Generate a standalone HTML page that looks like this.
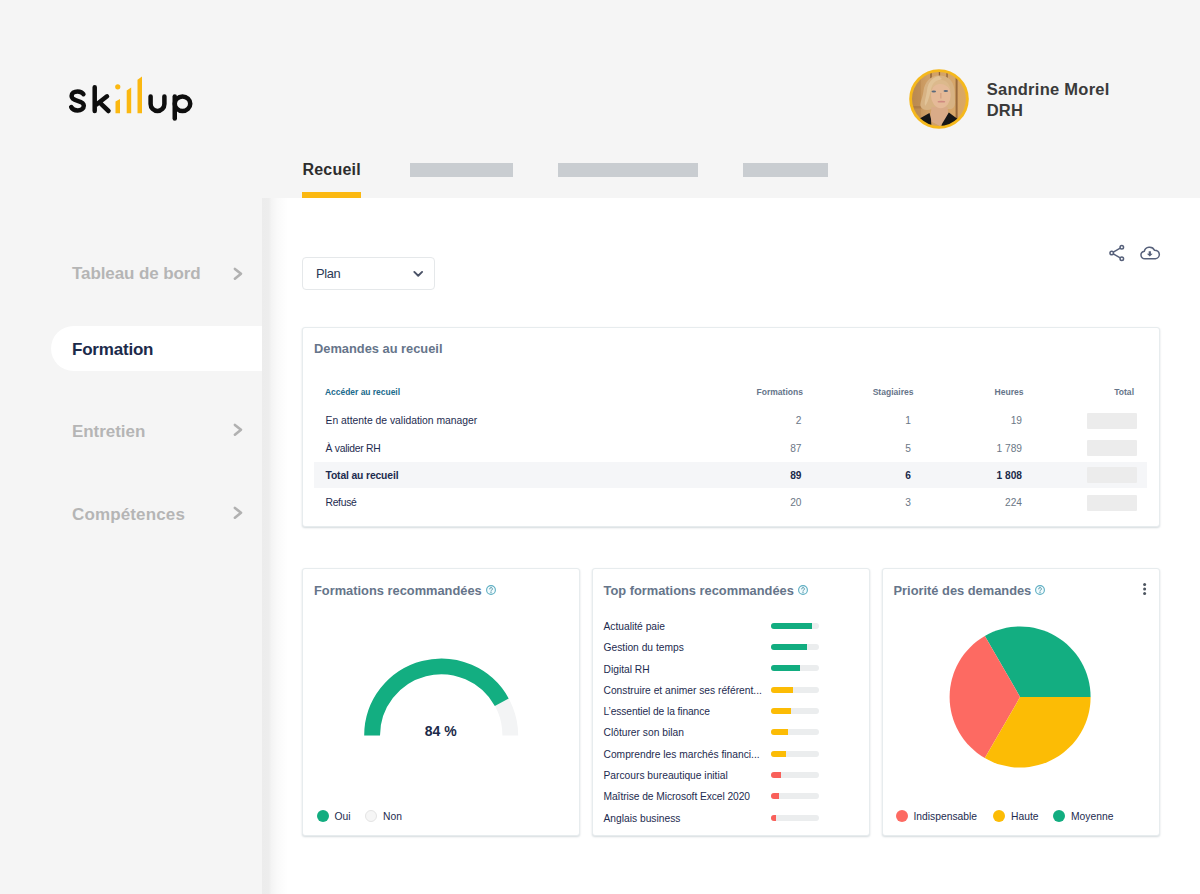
<!DOCTYPE html>
<html lang="fr">
<head>
<meta charset="utf-8">
<title>Skillup</title>
<style>
*{box-sizing:border-box;margin:0;padding:0}
html,body{width:1200px;height:894px;overflow:hidden;background:#f5f5f5;font-family:"Liberation Sans",sans-serif;color:#1d2b4f}
.abs{position:absolute}
#root{position:relative;width:1200px;height:894px;overflow:hidden}
/* main white panel */
#panel{left:262px;top:197.6px;width:938px;height:697px;background:#fff}
#panel:before{content:"";position:absolute;left:0;top:0;width:26px;height:100%;background:linear-gradient(90deg,#ececec 0,#ededed 26%,#f4f4f4 36%,#fafafa 60%,#fff 100%)}
/* tabs */
.tab{top:160.8px;font-size:16px;font-weight:700;color:#2d2d2d;letter-spacing:.1px}
.tabbar{left:302px;top:192.4px;width:58.5px;height:5.4px;background:#fbb811}
.ph{top:163px;height:14px;background:#c9cdd1}
/* side nav */
.nav{left:72px;font-size:17px;font-weight:700;color:#b5b5b5;letter-spacing:-.1px}
.navact{left:51px;top:326px;width:211px;height:45px;background:#fff;border-radius:23px 0 0 23px}
.chev{left:232px;width:12px;height:16px}
/* cards */
.card{background:#fff;border:1px solid #e7ecee;border-radius:3px;box-shadow:0 1px 2px rgba(120,140,150,.32)}
.ctitle{font-size:12.85px;font-weight:700;color:#66758a}
.row{font-size:10.35px;color:#1d2b4f}
.num{font-size:10.2px;color:#6b7786;text-align:right;width:60px}
.th{font-size:8.55px;font-weight:700;color:#66758a;text-align:right;width:80px}
.blur{left:1087px;width:50px;height:16px;background:#ececec;border-radius:1px;filter:blur(.5px)}
.li{left:603.5px;font-size:10.25px;color:#1d2b4f;white-space:nowrap}
.bar{left:771px;width:47.5px;height:6px;border-radius:3px;background:#ebedee;overflow:hidden}
.bar i{display:block;height:6px}
.lg{font-size:10.3px;color:#1d2b4f}
.dot{width:12px;height:12px;border-radius:50%}
</style>
</head>
<body>
<div id="root">
  <div id="panel" class="abs"></div>
  <div class="abs card" style="left:302px;top:327px;width:858px;height:200px"></div>
  <div class="abs" style="left:314px;top:462px;width:833px;height:26px;background:#f5f6f8"></div>
  <div class="abs card" style="left:302px;top:568px;width:278px;height:268px"></div>
  <div class="abs card" style="left:592px;top:568px;width:278px;height:268px"></div>
  <div class="abs card" style="left:882px;top:568px;width:278px;height:268px"></div>

  <!-- logo placeholder -->
  <svg id="logo" class="abs" style="left:50px;top:60px" width="200" height="80" viewBox="0 0 200 80">
    <g fill="none" stroke="#0e0e0e" stroke-width="4.5" stroke-linecap="round" stroke-linejoin="round">
      <path d="M33.4 34.2C32.2 32.2 30 31.4 27.6 31.4C24.2 31.4 21.6 33.2 21.6 36C21.6 39 24.4 39.9 27.6 40.8C31 41.7 33.8 42.8 33.8 45.8C33.8 48.8 31 50.4 27.6 50.4C24.6 50.4 22.2 49.2 21.2 47"/>
      <path d="M44.7 27.2V51M57 36.3L46.5 44.6M49.5 42.4L58.5 51"/>
      <path d="M100.6 36.4V44a6.9 6.9 0 0 0 13.8 0V36.4"/>
      <path d="M124.75 36.4V58.6"/>
      <ellipse cx="132.5" cy="43.7" rx="7.75" ry="7.3"/>
    </g>
    <g fill="#fbb811">
      <circle cx="67.75" cy="26.8" r="2.6"/>
      <path d="M65.5 41.4L70 39V53.3H65.5Z"/>
      <path d="M76.7 30.6L81.2 27.6V53.3H76.7Z"/>
      <path d="M87.5 19.8L92 16.6V53.3H87.5Z"/>
    </g>
  </svg>

  <!-- user -->
  <svg id="avatar" class="abs" style="left:908.5px;top:69px" width="60" height="60" viewBox="0 0 60 60">
    <defs>
      <clipPath id="avc"><circle cx="30" cy="30" r="27"/></clipPath>
      <filter id="avb" x="-10%" y="-10%" width="120%" height="120%"><feGaussianBlur stdDeviation="0.7"/></filter>
      <linearGradient id="avbg" x1="0" x2="1" y1="0" y2="0">
        <stop offset="0" stop-color="#b98850"/><stop offset=".3" stop-color="#cf9f66"/><stop offset=".75" stop-color="#d6a66a"/><stop offset="1" stop-color="#dca85f"/>
      </linearGradient>
    </defs>
    <circle cx="30" cy="30" r="29.8" fill="#f5b81c"/>
    <g clip-path="url(#avc)">
      <g filter="url(#avb)">
        <rect x="0" y="0" width="60" height="60" fill="url(#avbg)"/>
        <rect x="3" y="10" width="9" height="40" fill="#b8864f" opacity=".55"/>
        <rect x="21.3" y="0" width="1.4" height="20" fill="#8a5f35"/>
        <rect x="29.8" y="0" width="1.3" height="12" fill="#8a5f35"/>
        <rect x="37.4" y="0" width="1.3" height="14" fill="#8a5f35"/>
        <rect x="46.6" y="4" width="2" height="52" fill="#9a6b3c"/>
        <rect x="4" y="37" width="14" height="2.4" fill="#a87845" opacity=".7"/>
        <!-- hair -->
        <path d="M31 6.5C22 6 15.5 13 14.5 22C13.5 29 11 33 11.5 37C12.5 41 18 42 23 40L40 40C44 41 46.5 37 46 32C45.5 26 46.5 20 43.5 14C41 9 36.5 6.8 31 6.5Z" fill="#d7b283"/>
        <path d="M30 7C24 8 19 13 18 21C17.5 27 15 32 16 37C19 34 20 28 21.5 23C23 17 26 12 33 10Z" fill="#e3c79d" opacity=".8"/>
        <!-- neck -->
        <path d="M22.5 38L38.5 38L39.5 46L31 57L21 52Z" fill="#d9ab88"/>
        <!-- face -->
        <ellipse cx="31.8" cy="26" rx="9.9" ry="13.2" fill="#e5ba98"/>
        <path d="M22 22C22.5 14 27 11 32 11C37 11 41 15 41.5 21C38 16 34 14.5 30 15C26 15.6 23.5 18 22 22Z" fill="#dcb98c"/>
        <!-- eyes -->
        <ellipse cx="24.8" cy="22.6" rx="2.3" ry="1" fill="#5a6a7c"/>
        <ellipse cx="36.8" cy="22" rx="2.3" ry="1" fill="#5a6a7c"/>
        <!-- nose/mouth -->
        <path d="M31.8 24V29.5" stroke="#d8a685" stroke-width="1.6" fill="none"/>
        <ellipse cx="32.4" cy="32.7" rx="3.8" ry=".9" fill="#cf8a80"/>
        <!-- clothes -->
        <path d="M8 51L20.5 44L22 50L22.5 60H8Z" fill="#131318"/>
        <path d="M39.8 43.5L48 49.5L52 60H31.5L33 55Z" fill="#131318"/>
      </g>
    </g>
  </svg>
  <div class="abs" style="left:986.7px;top:78.6px;font-size:16.5px;font-weight:700;color:#3a3a3a;line-height:21px;letter-spacing:.27px">Sandrine Morel<br>DRH</div>

  <!-- tabs -->
  <div class="abs tab" style="left:302.5px;letter-spacing:.2px">Recueil</div>
  <div class="abs tabbar"></div>
  <div class="abs ph" style="left:410px;width:103px"></div>
  <div class="abs ph" style="left:558px;width:140px"></div>
  <div class="abs ph" style="left:743px;width:85px"></div>

  <!-- side nav -->
  <div class="abs navact"></div>
  <div class="abs nav" style="top:263.6px">Tableau de bord</div>
  <div class="abs nav" style="top:340.3px;color:#1b2a4a;letter-spacing:-.2px">Formation</div>
  <div class="abs nav" style="top:421.7px;letter-spacing:-.05px">Entretien</div>
  <div class="abs nav" style="top:504.5px;letter-spacing:.14px">Compétences</div>

  <svg class="abs" style="left:230px;top:263.7px" width="16" height="20" viewBox="0 0 16 20"><path d="M4.9 4.9L11 9.8L4.9 14.7" fill="none" stroke="#b1b1b1" stroke-width="2.6" stroke-linecap="round" stroke-linejoin="round"/></svg>
  <svg class="abs" style="left:230px;top:419.7px" width="16" height="20" viewBox="0 0 16 20"><path d="M4.9 4.9L11 9.8L4.9 14.7" fill="none" stroke="#b1b1b1" stroke-width="2.6" stroke-linecap="round" stroke-linejoin="round"/></svg>
  <svg class="abs" style="left:230px;top:503.3px" width="16" height="20" viewBox="0 0 16 20"><path d="M4.9 4.9L11 9.8L4.9 14.7" fill="none" stroke="#b1b1b1" stroke-width="2.6" stroke-linecap="round" stroke-linejoin="round"/></svg>

  <!-- dropdown -->
  <div class="abs" style="left:302px;top:257px;width:133px;height:33px;border:1px solid #e5e8ea;border-radius:4px;background:#fff"></div>
  <div class="abs" style="left:316px;top:265.9px;font-size:12.9px;letter-spacing:-.35px;color:#2b3a55">Plan</div>
  <svg class="abs" style="left:410px;top:267px" width="16" height="14" viewBox="0 0 16 14"><path d="M4.3 4.9L8.2 8.7L12.1 4.9" fill="none" stroke="#4a5266" stroke-width="1.9" stroke-linecap="round" stroke-linejoin="round"/></svg>

  <!-- card 1 -->
  <div class="abs ctitle" style="left:314px;top:341px">Demandes au recueil</div>
  <div class="abs" style="left:325px;top:387px;font-size:8.45px;font-weight:700;color:#1a6a8c">Accéder au recueil</div>
  <div class="abs th" style="left:723px;top:387px">Formations</div>
  <div class="abs th" style="left:833.5px;top:387px">Stagiaires</div>
  <div class="abs th" style="left:943.5px;top:387px">Heures</div>
  <div class="abs th" style="left:1054px;top:387px">Total</div>
  <div class="abs row" style="left:325.5px;top:415.2px;">En attente de validation manager</div>
  <div class="abs num" style="left:741.5px;top:415.2px;">2</div>
  <div class="abs num" style="left:851px;top:415.2px;">1</div>
  <div class="abs num" style="left:962px;top:415.2px;">19</div>
  <div class="abs blur" style="top:412.5px"></div>
  <div class="abs row" style="left:325.5px;top:442.7px;letter-spacing:-.25px">À valider RH</div>
  <div class="abs num" style="left:741.5px;top:442.7px;">87</div>
  <div class="abs num" style="left:851px;top:442.7px;">5</div>
  <div class="abs num" style="left:962px;top:442.7px;">1 789</div>
  <div class="abs blur" style="top:440px"></div>
  <div class="abs row" style="left:325.5px;top:469.7px;font-weight:700;letter-spacing:-.14px">Total au recueil</div>
  <div class="abs num" style="left:741.5px;top:469.7px;font-weight:700;color:#1b2a4a;">89</div>
  <div class="abs num" style="left:851px;top:469.7px;font-weight:700;color:#1b2a4a;">6</div>
  <div class="abs num" style="left:962px;top:469.7px;font-weight:700;color:#1b2a4a;">1 808</div>
  <div class="abs blur" style="top:467px"></div>
  <div class="abs row" style="left:325.5px;top:497.2px;letter-spacing:-.3px">Refusé</div>
  <div class="abs num" style="left:741.5px;top:497.2px;">20</div>
  <div class="abs num" style="left:851px;top:497.2px;">3</div>
  <div class="abs num" style="left:962px;top:497.2px;">224</div>
  <div class="abs blur" style="top:494.5px"></div>

  <!-- card A -->
  <div class="abs ctitle" style="left:314px;top:583px">Formations recommandées</div>
  <svg class="abs" style="left:484.8px;top:583.7px" width="12" height="12" viewBox="0 0 12 12"><circle cx="6" cy="6" r="4.4" fill="#f1fbfe" stroke="#5eaec2" stroke-width="1.1"/><path d="M4.7 4.9a1.35 1.35 0 1 1 2 1.2c-.5.3-.7.5-.7 1" fill="none" stroke="#5797a8" stroke-width="1" stroke-linecap="round"/><circle cx="6" cy="8.4" r=".6" fill="#5797a8"/></svg>
  <svg class="abs" style="left:0;top:0" width="1200" height="894" viewBox="0 0 1200 894">
    <path d="M372.10 735.5A69.10 69.10 0 0 1 510.30 735.5" fill="none" stroke="#f3f4f5" stroke-width="15.80"/>
    <path d="M372.10 735.5A69.10 69.10 0 0 1 501.75 702.21" fill="none" stroke="#13ae81" stroke-width="15.80"/>
    <path d="M1020.1 697L1090.60 697.00A70.5 70.5 0 0 0 984.85 635.95Z" fill="#13ae81"/>
    <path d="M1020.1 697L984.85 635.95A70.5 70.5 0 0 0 984.85 758.05Z" fill="#fd6a62"/>
    <path d="M1020.1 697L984.85 758.05A70.5 70.5 0 0 0 1090.60 697.00Z" fill="#fcbc05"/>
    <circle cx="1144.6" cy="584.6" r="1.5" fill="#4d5560"/>
    <circle cx="1144.6" cy="589.1" r="1.5" fill="#4d5560"/>
    <circle cx="1144.6" cy="593.6" r="1.5" fill="#4d5560"/>
  </svg>
  <div class="abs" style="left:400.7px;top:722.8px;width:80px;text-align:center;font-size:14px;font-weight:700;color:#1b2a4a">84 %</div>
  <div class="abs dot" style="left:316.5px;top:810px;background:#12ad80"></div>
  <div class="abs lg" style="left:334.5px;top:811.2px">Oui</div>
  <div class="abs dot" style="left:365px;top:810px;background:#f6f6f6;border:1px solid #e4e4e4"></div>
  <div class="abs lg" style="left:383px;top:811.2px">Non</div>

  <!-- card B -->
  <div class="abs ctitle" style="left:603.5px;top:583px">Top formations recommandées</div>
  <svg class="abs" style="left:797.3px;top:583.7px" width="12" height="12" viewBox="0 0 12 12"><circle cx="6" cy="6" r="4.4" fill="#f1fbfe" stroke="#5eaec2" stroke-width="1.1"/><path d="M4.7 4.9a1.35 1.35 0 1 1 2 1.2c-.5.3-.7.5-.7 1" fill="none" stroke="#5797a8" stroke-width="1" stroke-linecap="round"/><circle cx="6" cy="8.4" r=".6" fill="#5797a8"/></svg>
  <div class="abs li" style="top:620.8px">Actualité paie</div>
  <div class="abs bar" style="top:622.5px"><i style="width:40.5px;background:#12ad80"></i></div>
  <div class="abs li" style="top:642.1px">Gestion du temps</div>
  <div class="abs bar" style="top:643.8px"><i style="width:35.5px;background:#12ad80"></i></div>
  <div class="abs li" style="top:663.5px">Digital RH</div>
  <div class="abs bar" style="top:665.2px"><i style="width:28.5px;background:#12ad80"></i></div>
  <div class="abs li" style="top:684.8px">Construire et animer ses référent...</div>
  <div class="abs bar" style="top:686.5px"><i style="width:21.5px;background:#fcbc05"></i></div>
  <div class="abs li" style="top:706.1px;letter-spacing:-.1px">L’essentiel de la finance</div>
  <div class="abs bar" style="top:707.8px"><i style="width:19.5px;background:#fcbc05"></i></div>
  <div class="abs li" style="top:727.4px">Clôturer son bilan</div>
  <div class="abs bar" style="top:729.1px"><i style="width:17px;background:#fcbc05"></i></div>
  <div class="abs li" style="top:748.8px">Comprendre les marchés financi...</div>
  <div class="abs bar" style="top:750.5px"><i style="width:14.5px;background:#fcbc05"></i></div>
  <div class="abs li" style="top:770.1px">Parcours bureautique initial</div>
  <div class="abs bar" style="top:771.8px"><i style="width:9.5px;background:#f9605a"></i></div>
  <div class="abs li" style="top:791.4px;letter-spacing:-.07px">Maîtrise de Microsoft Excel 2020</div>
  <div class="abs bar" style="top:793.1px"><i style="width:7.5px;background:#f9605a"></i></div>
  <div class="abs li" style="top:812.8px">Anglais business</div>
  <div class="abs bar" style="top:814.5px"><i style="width:5px;background:#f9605a"></i></div>

  <!-- card C -->
  <div class="abs ctitle" style="left:893.5px;top:583px">Priorité des demandes</div>
  <svg class="abs" style="left:1033.8px;top:583.7px" width="12" height="12" viewBox="0 0 12 12"><circle cx="6" cy="6" r="4.4" fill="#f1fbfe" stroke="#5eaec2" stroke-width="1.1"/><path d="M4.7 4.9a1.35 1.35 0 1 1 2 1.2c-.5.3-.7.5-.7 1" fill="none" stroke="#5797a8" stroke-width="1" stroke-linecap="round"/><circle cx="6" cy="8.4" r=".6" fill="#5797a8"/></svg>
  <div class="abs dot" style="left:895.5px;top:810px;background:#fd6a62"></div>
  <div class="abs lg" style="left:913.5px;top:811.2px">Indispensable</div>
  <div class="abs dot" style="left:992.5px;top:810px;background:#fcbc05"></div>
  <div class="abs lg" style="left:1011px;top:811.2px">Haute</div>
  <div class="abs dot" style="left:1053px;top:810px;background:#12ad80"></div>
  <div class="abs lg" style="left:1071px;top:811.2px">Moyenne</div>

  <!-- action icons -->
  <svg class="abs" style="left:1106px;top:242px" width="22" height="22" viewBox="0 0 22 22" fill="none" stroke="#56607a" stroke-width="1.5">
    <circle cx="15.8" cy="5.2" r="1.75"/><circle cx="5.7" cy="11" r="1.75"/><circle cx="15.8" cy="16.8" r="1.75"/>
    <path d="M7.3 10.1L14.2 6.1M7.3 11.9L14.2 15.9"/>
  </svg>
  <svg class="abs" style="left:1138px;top:242px" width="24" height="22" viewBox="0 0 24 22" fill="none" stroke="#56607a" stroke-width="1.5" stroke-linejoin="round">
    <path transform="translate(0,1.2) scale(1,.9)" vector-effect="non-scaling-stroke" d="M7 17.4a4.3 4.3 0 0 1-.6-8.5a5.2 5.2 0 0 1 10-1.2a4.9 4.9 0 0 1 1 9.7Z"/>
    <path d="M10.7 9.3h2.2v2.4h1.8l-2.9 2.9l-2.9-2.9h1.8Z" fill="#56607a" stroke="none"/>
  </svg>
</div>
</body>
</html>
